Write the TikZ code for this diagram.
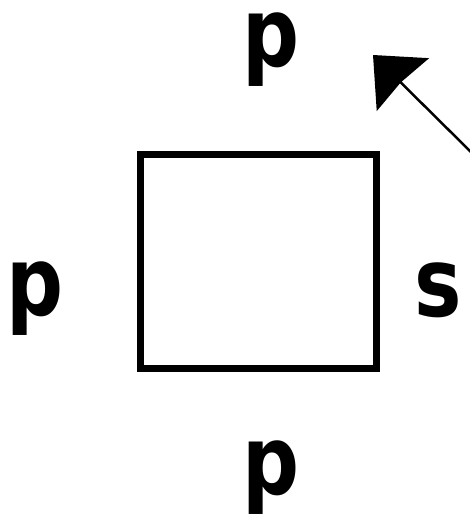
\documentclass[tikz,border=0pt]{standalone}
\usepackage{fontspec}
\setmainfont{DejaVu Sans}
\usetikzlibrary{arrows.meta}
\tikzset{
  lbl/.style={anchor=base, inner sep=0pt, text height=52pt, text depth=20pt, font=\fontsize{96}{96}\selectfont\bfseries, xscale=0.83, transform shape},
  box/.style={draw, line width=7pt, minimum width=236pt, minimum height=214pt, inner sep=0pt},
  pointer/.style={line width=2.5pt, -{Stealth[length=42pt, width=74pt, inset=3pt]}}
}
\begin{document}
\begin{tikzpicture}[x=1pt, y=-1pt]
\useasboundingbox (0,0) rectangle (469,516);
\node[box] (sq) at (258.5,261.5) {};
\node[lbl] (top) at (271,66.5) {p};
\node[lbl] (left) at (35,315.5) {p};
\node[lbl] (bot) at (271,494) {p};
\node[lbl] (right) at (438.5,316) {s};
\coordinate (tail) at (475,156);
\coordinate (tip) at (373,55);
\draw[pointer] (tail) -- (tip);
\end{tikzpicture}
\end{document}
